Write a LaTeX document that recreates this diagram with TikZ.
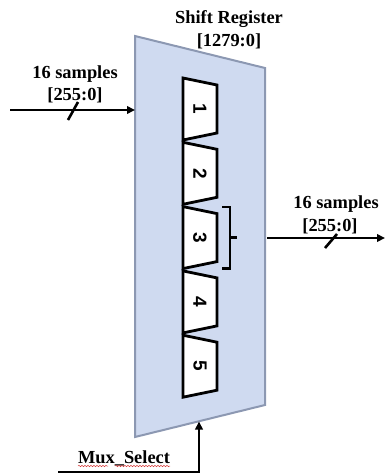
\documentclass[tikz,border=0pt]{standalone}
\usepackage{fontspec}
\setmainfont{Liberation Serif}
\newfontfamily\digitfont{Liberation Sans}
\usetikzlibrary{arrows.meta,decorations.pathmorphing}
\definecolor{regfill}{RGB}{207,218,240}
\definecolor{regedge}{RGB}{140,152,178}
\definecolor{spellred}{RGB}{215,60,60}
\begin{document}
\begin{tikzpicture}[x=1pt,y=-1pt,
  regbody/.style={fill=regfill, draw=regedge, line width=2pt, line join=miter},
  cell/.style={draw=black, line width=2.8pt, fill=white, line join=miter},
  wire/.style={line width=2.7pt, -{Triangle[length=8pt,width=7.5pt]}},
  bus/.style={line width=2.6pt},
  lbl/.style={font=\fontsize{18.4}{20}\selectfont\bfseries, inner sep=0pt, anchor=base},
  digit/.style={font=\digitfont\bfseries\fontsize{19}{20}\selectfont, rotate=-90, inner sep=0pt},
  squiggle/.style={draw=spellred, line width=0.5pt, decorate,
    decoration={snake, amplitude=0.7pt, segment length=3pt}}]
\useasboundingbox (0,0) rectangle (385,474);

% register body
\coordinate (tl) at (135,36);
\coordinate (tr) at (265,68);
\coordinate (br) at (265,405);
\coordinate (bl) at (135,437);
\draw[regbody] (tl) -- (tr) -- (br) -- (bl) -- cycle;

% title
\node[lbl] (title) at (229,23) {Shift Register};
\node[lbl] (width) at (229,46) {[1279:0]};

% five sample stages
\foreach \i in {1,...,5} {
  \pgfmathsetmacro\t{78+64.3*(\i-1)}
  \draw[cell] (183,\t) -- (217,\t+7) -- (217,\t+55) -- (183,\t+62) -- cycle;
  \node[digit] (d\i) at (200,\t+31) {\i};
}

% tap bracket on stage 3
\draw[bus] (222,207) -- (230,207) -- (230,268.5) -- (222,268.5);
\coordinate (tap) at (230,237.5);
\draw[bus] (tap) -- ++(7,0);

% input bus
\coordinate (insrc) at (10,110);
\coordinate (indst) at (135,110);
\draw[wire] (insrc) -- (indst);
\draw[bus] (68,120) -- (78,102);
\node[lbl] (inlab1) at (75,78) {16 samples};
\node[lbl] (inlab2) at (75,100) {[255:0]};

% output bus
\coordinate (outsrc) at (267,238);
\coordinate (outdst) at (385,238);
\draw[wire] (outsrc) -- (outdst);
\draw[bus] (325,248) -- (337,234);
\node[lbl] (outlab1) at (336,208) {16 samples};
\node[lbl] (outlab2) at (330,231) {[255:0]};

% select input
\coordinate (selsrc) at (58,472);
\coordinate (selbend) at (199,472);
\coordinate (seldst) at (199,421.5);
\draw[wire] (selsrc) -- (selbend) -- (seldst);
\node[lbl] (sellab) at (124,463) {Mux\_Select};
\draw[squiggle] (78,466) -- (108,466);
\draw[squiggle] (115,466) -- (170,466);
\end{tikzpicture}
\end{document}
